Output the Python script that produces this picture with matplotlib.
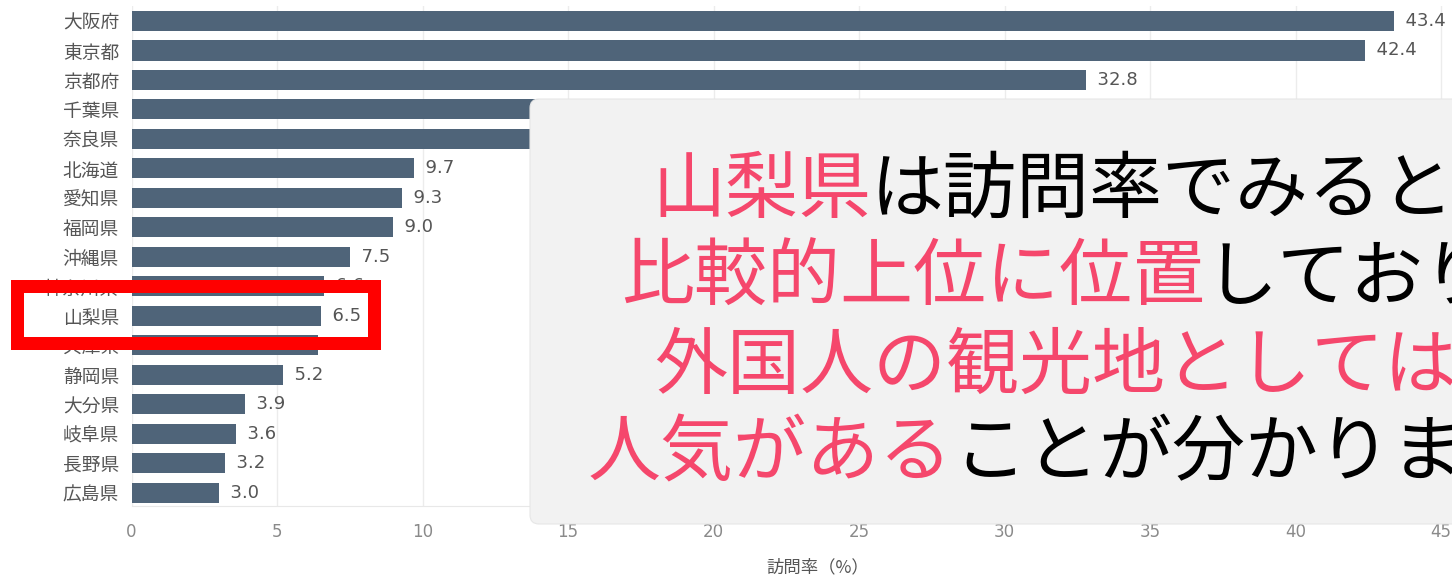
import matplotlib
matplotlib.use("Agg")
import matplotlib.pyplot as plt
from matplotlib.patches import FancyBboxPatch, Rectangle
from matplotlib.transforms import IdentityTransform

plt.rcParams['font.family'] = ['Noto Sans CJK JP', 'DejaVu Sans']

# ---- data ----
prefectures = ["大阪府", "東京都", "京都府", "千葉県", "奈良県", "北海道", "愛知県", "福岡県",
               "沖縄県", "神奈川県", "山梨県", "兵庫県", "静岡県", "大分県", "岐阜県", "長野県", "広島県"]
visit_rate = [43.4, 42.4, 32.8, 16.0, 14.6, 9.7, 9.3, 9.0,
              7.5, 6.6, 6.5, 6.4, 5.2, 3.9, 3.6, 3.2, 3.0]
x_ticks = [0, 5, 10, 15, 20, 25, 30, 35, 40, 45]
x_label = "訪問率（%）"
callout_lines = [
    [("山梨県", "pink"), ("は訪問率でみると、", "black")],
    [("比較的上位に位置", "pink"), ("しており、", "black")],
    [("外国人の観光地としては、", "pink")],
    [("人気がある", "pink"), ("ことが分かります。", "black")],
]

W, H = 1452, 577
DPI = 100
fig = plt.figure(figsize=(W / DPI, H / DPI), dpi=DPI)
fig.patch.set_facecolor("white")

x0_px, px_per_unit = 131.5, 29.1
ax_top, ax_bot = 6.25, 506
ax = fig.add_axes([x0_px / W, 1 - ax_bot / H, (W - x0_px) / W, (ax_bot - ax_top) / H])
ax.set_xlim(0, (W - x0_px) / px_per_unit)
ax.set_ylim(16.45, -0.5)

bar_color = "#4f6479"
ypos = list(range(len(prefectures)))
ax.barh(ypos, visit_rate, height=0.68, color=bar_color, zorder=2)
for y, v in zip(ypos, visit_rate):
    ax.text(v, y, f"  {v:.1f}", va="center", ha="left", fontsize=13,
            color="#555555", family="DejaVu Sans", zorder=3)

ax.set_yticks(ypos)
ax.set_yticklabels(prefectures, fontsize=13.5, color="#555555")
ax.set_xticks(x_ticks)
ax.set_xticklabels([str(t) for t in x_ticks], fontsize=12, color="#8a8a8a", family="DejaVu Sans")
ax.tick_params(axis="both", length=0)
ax.tick_params(axis="y", pad=9)
ax.tick_params(axis="x", pad=12)
ax.grid(axis="x", color="#ececec", linewidth=1, zorder=0)
ax.set_axisbelow(True)
for s in ["top", "right", "left"]:
    ax.spines[s].set_visible(False)
ax.spines["bottom"].set_color("#e8e8e8")

ax.set_xlabel(x_label, fontsize=12.5, color="#555555")
ax.xaxis.set_label_coords((818 - x0_px) / (W - x0_px), -(567 - ax_bot) / (ax_bot - ax_top))
ax.xaxis.label.set_va("center")

ident = IdentityTransform()

def py(y):
    return H - y

# callout box
box = FancyBboxPatch((530, py(524)), 1000, 524 - 99,
                     boxstyle="round,pad=0,rounding_size=9",
                     facecolor="#f2f2f2", edgecolor="#e6e6e6", linewidth=0.8,
                     transform=ident, zorder=10)
fig.add_artist(box)

fs_px = 73
fs_pt = fs_px * 72 / DPI
colors = {"pink": "#f5476c", "black": "#000000"}
line_starts = [652, 621, 654, 588]
line_centers = [191, 279, 367, 455]
for segs, xs, yc in zip(callout_lines, line_starts, line_centers):
    x = xs
    for txt, c in segs:
        fig.text(x, py(yc), txt, transform=ident, fontsize=fs_pt, color=colors[c],
                 ha="left", va="center", zorder=11)
        x += len(txt) * fs_px

# red highlight rectangle
rect = Rectangle((16.5, py(342.5)), 373.5 - 16.5, 342.5 - 285.5, fill=False,
                 edgecolor="#ff0000", linewidth=13 * 72 / DPI, transform=ident, zorder=12,
                 joinstyle="miter")
fig.add_artist(rect)

fig.savefig("out.png", dpi=DPI, facecolor="white")
